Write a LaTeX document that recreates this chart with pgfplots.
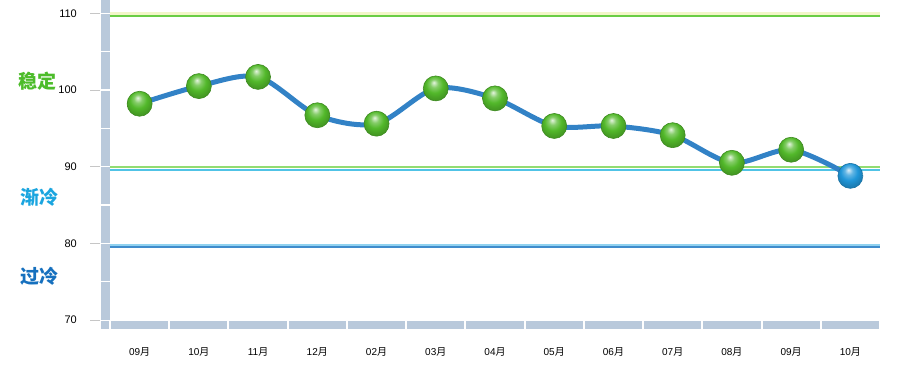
\documentclass[border=0pt]{standalone}
\usepackage{pgfplots}
\pgfplotsset{compat=1.18}
\usepackage{fontspec}
\setmainfont{Liberation Sans}
\newfontfamily\cjk{Noto Sans CJK SC}
\definecolor{barc}{HTML}{B9C9DB}
\definecolor{curve}{HTML}{3282C6}
\definecolor{gtop}{HTML}{6ACD45}
\definecolor{glow}{HTML}{F2F6C8}
\definecolor{g90}{HTML}{92DC72}
\definecolor{c90}{HTML}{50C3E6}
\definecolor{lb80}{HTML}{90D2F0}
\definecolor{b80}{HTML}{3F8CCC}
\definecolor{lgreen}{HTML}{4CBC2A}
\definecolor{lcyan}{HTML}{1BA5DF}
\definecolor{lblue}{HTML}{1670BE}
\definecolor{ballg}{HTML}{52B82A}
\definecolor{ballb}{HTML}{2096D8}
\makeatletter
\pgfdeclareradialshading[tikz@ball]{ball}{\pgfqpoint{-4bp}{12bp}}{%
 color(0bp)=(tikz@ball!15!white); color(8bp)=(tikz@ball!70!white); color(17bp)=(tikz@ball); color(24bp)=(tikz@ball!88!black); color(30bp)=(tikz@ball!80!black); color(50bp)=(tikz@ball!75!black)}
\makeatother
\begin{document}
\begin{tikzpicture}[x=1pt,y=1pt]
\useasboundingbox (0,0) rectangle (900,375);
% left bar with gaps every 5 units
\foreach \a/\b in {55/92.6,94.1/130.9,132.4/169.2,170.7/207.6,209.1/245.9,247.4/284.3,285.8/322.6,324.1/360.9,362.4/375}{
  \fill[barc] (101,\a) rectangle (110,\b);
}
% bottom bar segments
\fill[barc] (101,46) rectangle (109,54);
\foreach \i in {0,...,12}{
  \fill[barc] ({111+59.23*\i},46) rectangle ({109+59.23*(\i+1)},54);
}
% y tick marks
\foreach \v in {0,1,2,3,4}{
  \draw[gray!45, line width=0.8pt] (90,{55+76.68*\v}) -- (100,{55+76.68*\v});
}
\begin{axis}[
  at={(110pt,55pt)}, anchor=south west,
  scale only axis, width=770pt, height=320pt,
  xmin=-0.5, xmax=12.5, ymin=70, ymax=111.73,
  axis line style={draw=none},
  clip=false,
  major tick length=0pt,
  xtick={0,...,12},
  xticklabels={09\cjk 月,10\cjk 月,11\cjk 月,12\cjk 月,02\cjk 月,03\cjk 月,04\cjk 月,05\cjk 月,06\cjk 月,07\cjk 月,08\cjk 月,09\cjk 月,10\cjk 月},
  xticklabel style={font=\fontsize{10}{11}\selectfont, inner sep=0pt, anchor=north, yshift=-27pt},
  ytick={70,80,90,100,110},
  yticklabel style={font=\fontsize{11}{12}\selectfont, inner sep=0pt, anchor=east, xshift=-33pt},
  /pgf/number format/assume math mode=true,
]
\addplot[glow, line width=3pt, forget plot] coordinates {(-0.5,109.95) (12.5,109.95)};
\addplot[gtop, line width=2.4pt] coordinates {(-0.5,109.65) (12.5,109.65)};
\addplot[g90, line width=2pt] coordinates {(-0.5,89.95) (12.5,89.95)};
\addplot[c90, line width=1.6pt] coordinates {(-0.5,89.55) (12.5,89.55)};
\addplot[lb80, line width=1.6pt] coordinates {(-0.5,79.75) (12.5,79.75)};
\addplot[b80, line width=1.8pt] coordinates {(-0.5,79.5) (12.5,79.5)};
\addplot[curve, line width=5pt, smooth, no marks] coordinates {
(0,98.2) (1,100.5) (2,101.7) (3,96.7) (4,95.6) (5,100.2) (6,98.9) (7,95.3) (8,95.3) (9,94.1) (10,90.5) (11,92.2) (12,88.8)};
\addplot[only marks, mark=ball, mark size=12.5pt, mark options={ball color=ballg, draw=ballg!75!black, line width=0.6pt}] coordinates {
(0,98.2) (1,100.5) (2,101.7) (3,96.7) (4,95.6) (5,100.2) (6,98.9) (7,95.3) (8,95.3) (9,94.1) (10,90.5) (11,92.2)};
\addplot[only marks, mark=ball, mark size=12.5pt, mark options={ball color=ballb, draw=ballb!75!black, line width=0.6pt}] coordinates {(12,88.8)};
\end{axis}
\node[font=\cjk\bfseries\fontsize{19}{20}\selectfont, text=lgreen] at (38,294) {稳定};
\node[font=\cjk\bfseries\fontsize{19}{20}\selectfont, text=lcyan] at (39,177.5) {渐冷};
\node[font=\cjk\bfseries\fontsize{19}{20}\selectfont, text=lblue] at (39,99) {过冷};
\end{tikzpicture}
\end{document}
